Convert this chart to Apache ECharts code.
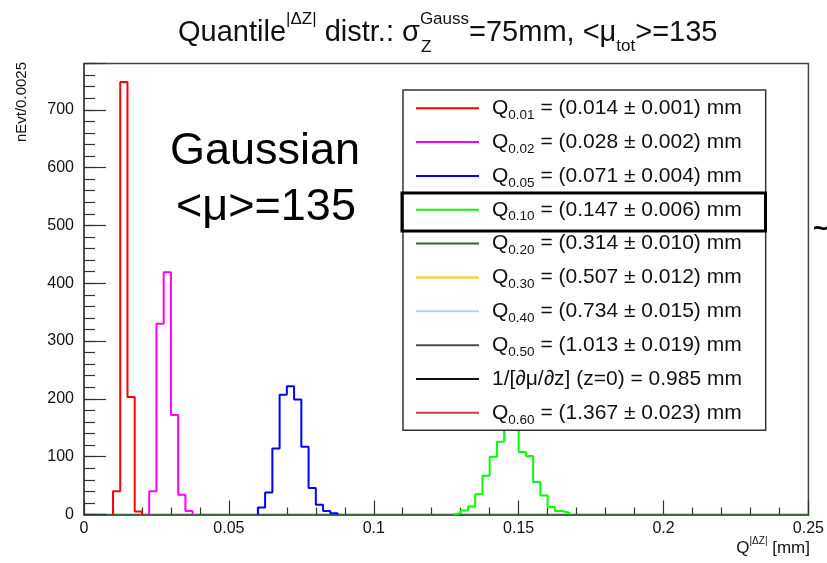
<!DOCTYPE html>
<html><head><meta charset="utf-8">
<script src="https://cdn.jsdelivr.net/npm/echarts@6/dist/echarts.min.js"></script>
<style>html,body{margin:0;padding:0;background:#fff}#c{width:827px;height:563px}</style>
</head><body><div id="c"></div>
<script>
// ---- data ----
const binWidth = 0.0025;
const q01Start = 0.01;
const q01Counts = [40, 748, 203, 5];
const q02Start = 0.0225;
const q02Counts = [40, 330, 419, 172, 34, 6];
const q05Start = 0.06;
const q05Counts = [12, 38, 114, 207, 222, 199, 117, 46, 17, 6, 2];
const q10Start = 0.1275;
const q10Counts = [2, 7, 14, 35, 67, 100, 126, 158, 146, 108, 101, 56, 33, 13, 6, 3];

const seriesNames = ['Q0.01', 'Q0.02', 'Q0.05', 'Q0.10', 'Q0.20', 'Q0.30', 'Q0.40', 'Q0.50', 'inv', 'Q0.60'];
const seriesColors = ['#ff0000', '#ff00ff', '#0000ff', '#00ff00', '#336633', '#ffcc00', '#a6d2ff', '#4d4d4d', '#111111', '#d23a45'];
const legendSubs = ['0.01', '0.02', '0.05', '0.10', '0.20', '0.30', '0.40', '0.50', '', '0.60'];
const legendValues = ['(0.014 ± 0.001) mm', '(0.028 ± 0.002) mm', '(0.071 ± 0.004) mm', '(0.147 ± 0.006) mm',
  '(0.314 ± 0.010) mm', '(0.507 ± 0.012) mm', '(0.734 ± 0.015) mm', '(1.013 ± 0.019) mm',
  '1/[∂μ/∂z] (z=0) = 0.985 mm', '(1.367 ± 0.023) mm'];
const xTickLabels = ['0', '0.05', '0.1', '0.15', '0.2', '0.25'];
const yTickLabels = ['0', '100', '200', '300', '400', '500', '600', '700'];
const xMin = 0, xMax = 0.25, xStep = 0.05;
const yMin = 0, yMax = 780, yStep = 100, yMinorStep = 20;

// ---- build ----
const FONT = 'Liberation Sans, Arial, Helvetica, sans-serif';
function histPoints(start, counts) {
  const pts = [[start, 0]];
  counts.forEach((c, i) => pts.push([start + i * binWidth, c]));
  pts.push([start + counts.length * binWidth, 0]);
  return pts;
}
const histData = {
  'Q0.01': histPoints(q01Start, q01Counts),
  'Q0.02': histPoints(q02Start, q02Counts),
  'Q0.05': histPoints(q05Start, q05Counts),
  'Q0.10': histPoints(q10Start, q10Counts)
};
const series = seriesNames.map((n, i) => ({
  name: n, type: 'line', step: 'end', symbol: 'none', showSymbol: false,
  data: histData[n] || [],
  color: seriesColors[i],
  lineStyle: { color: seriesColors[i], width: 2 },
  itemStyle: { color: seriesColors[i] },
  animation: false, z: 2
}));

const chart = echarts.init(document.getElementById('c'), null, { renderer: 'canvas' });
chart.setOption({
  animation: false,
  backgroundColor: '#fff',
  textStyle: { fontFamily: FONT },
  grid: { left: 84, right: 16.5, top: 63.5, bottom: 48.5, show: true, borderColor: '#444', borderWidth: 1.5, backgroundColor: 'transparent' },
  xAxis: {
    type: 'value', min: xMin, max: xMax, interval: xStep,
    axisLine: { show: true, onZero: false, lineStyle: { color: '#3d6b3d', width: 2 } },
    axisTick: { show: true, inside: true, length: 14, lineStyle: { color: '#333', width: 1.2 } },
    minorTick: { show: true, splitNumber: 5, length: 7, lineStyle: { color: '#333', width: 1.2 } },
    axisLabel: { margin: 6, fontSize: 16, color: '#111', fontFamily: FONT,
      formatter: v => xTickLabels[Math.round(v / xStep)] || '' },
    splitLine: { show: false }
  },
  yAxis: [
    {
      type: 'value', min: yMin, max: yMax, interval: yMinorStep,
      axisLine: { show: true, lineStyle: { color: '#444', width: 1.5 } },
      axisTick: { show: true, inside: true, length: 11, lineStyle: { color: '#333', width: 1.2 } },
      axisLabel: { show: false }, splitLine: { show: false }
    },
    {
      type: 'value', min: yMin, max: yMax, interval: yStep, position: 'left', offset: 0,
      axisLine: { show: false },
      axisTick: { show: true, inside: true, length: 22, lineStyle: { color: '#333', width: 1.2 } },
      axisLabel: { margin: 10, fontSize: 16, color: '#111', fontFamily: FONT,
        formatter: v => { const k = Math.round(v / yStep); return (Math.abs(v - k * yStep) < 1e-6 && yTickLabels[k]) ? yTickLabels[k] : ''; } },
      splitLine: { show: false }
    }
  ],
  legend: {
    orient: 'vertical', left: 403, top: 90,
    data: seriesNames, icon: 'rect', itemWidth: 63, itemHeight: 2, itemGap: 9.35,
    padding: [7.7, 20, 3.5, 13],
    backgroundColor: '#fff', borderColor: '#333', borderWidth: 1.5,
    selectedMode: false,
    formatter: name => {
      const i = seriesNames.indexOf(name);
      if (!legendSubs[i]) return '{sp|}{t|' + legendValues[i] + '}{s| }';
      return '{sp|}{q|Q}{s|' + legendSubs[i] + '}{t| = ' + legendValues[i] + '}';
    },
    textStyle: {
      color: '#111', fontFamily: FONT,
      rich: {
        sp: { width: 8, lineHeight: 28 },
        q: { fontSize: 21, lineHeight: 28, fontFamily: FONT, color: '#111' },
        s: { fontSize: 13.5, lineHeight: 13, verticalAlign: 'bottom', fontFamily: FONT, color: '#111' },
        t: { fontSize: 21, lineHeight: 28, fontFamily: FONT, color: '#111' }
      }
    },
    z: 5
  },
  graphic: [
    { type: 'rect', z: 100, shape: { x: 402, y: 193, width: 363.5, height: 38 },
      style: { fill: 'none', stroke: '#000', lineWidth: 3 } },
    { type: 'text', z: 100, x: 178, y: 33,
      style: { text: '{m|Quantile}{p||ΔZ|}{m| distr.: σ}{p|Gauss}{m|=75mm, <μ}{b|tot}{m|>=135}',
        align: 'left', verticalAlign: 'middle', fill: '#111', font: '29px ' + FONT,
        rich: {
          m: { fontSize: 29, lineHeight: 44, fontFamily: FONT, fill: '#111' },
          p: { fontSize: 17, lineHeight: 17, verticalAlign: 'top', fontFamily: FONT, fill: '#111' },
          b: { fontSize: 17, lineHeight: 17, verticalAlign: 'bottom', fontFamily: FONT, fill: '#111' }
        } } },
    { type: 'text', z: 100, x: 421, y: 47,
      style: { text: 'Z', fontSize: 17, fontFamily: FONT, fill: '#111', align: 'left', verticalAlign: 'middle' } },
    { type: 'text', z: 100, x: 265, y: 152,
      style: { text: 'Gaussian', fontSize: 45, fontFamily: FONT, fill: '#000', align: 'center', verticalAlign: 'middle' } },
    { type: 'text', z: 100, x: 266, y: 208,
      style: { text: '<μ>=135', fontSize: 45, fontFamily: FONT, fill: '#000', align: 'center', verticalAlign: 'middle' } },
    { type: 'text', z: 100, x: 22, y: 62, rotation: Math.PI / 2,
      style: { text: 'nEvt/0.0025', fontSize: 15, fontFamily: FONT, fill: '#111', align: 'right', verticalAlign: 'middle' } },
    { type: 'text', z: 100, x: 810, y: 548,
      style: { text: '{m|Q}{p||ΔZ|}{m| [mm]}', align: 'right', verticalAlign: 'middle', fill: '#111',
        rich: {
          m: { fontSize: 17, lineHeight: 24, fontFamily: FONT, fill: '#111' },
          p: { fontSize: 10, lineHeight: 10, verticalAlign: 'top', fontFamily: FONT, fill: '#111' }
        } } },
    { type: 'text', z: 100, x: 813, y: 230,
      style: { text: '~', fontSize: 26, fontWeight: 'bold', fontFamily: FONT, fill: '#000', align: 'left', verticalAlign: 'middle' } }
  ],
  series: series
});
</script>
</body></html>
